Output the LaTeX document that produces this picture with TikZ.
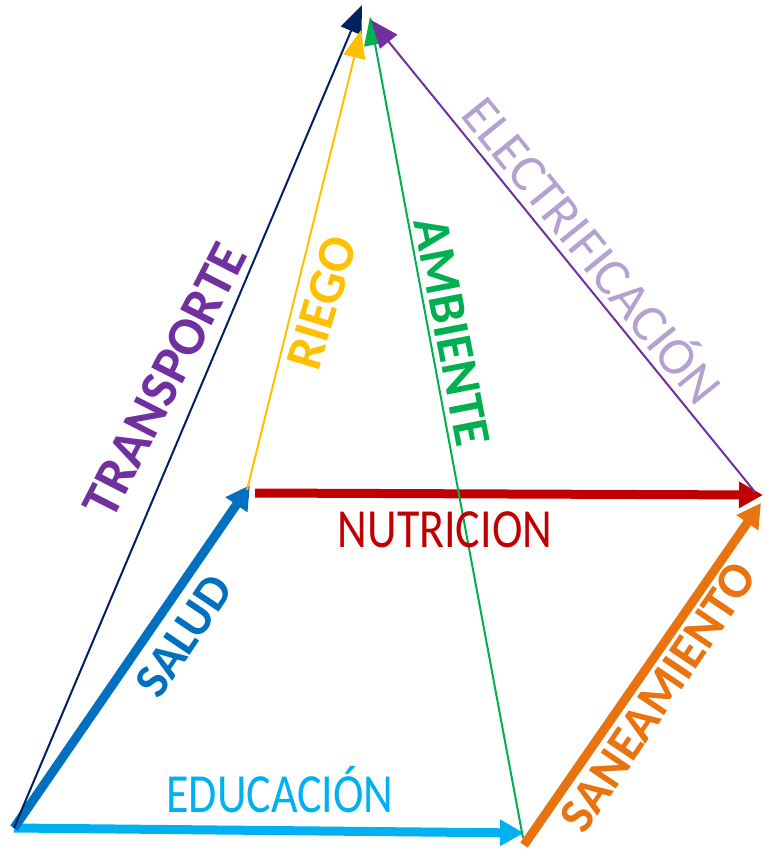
\documentclass[tikz,border=0pt]{standalone}
\usepackage{fontspec}
\setmainfont{Carlito}
\usetikzlibrary{arrows.meta}
\definecolor{navy}{HTML}{002060}
\definecolor{salud}{HTML}{0070C0}
\definecolor{educ}{HTML}{00B0F0}
\definecolor{nutri}{HTML}{C00000}
\definecolor{sanea}{HTML}{E8730F}
\definecolor{riego}{HTML}{FFC000}
\definecolor{ambi}{HTML}{00B050}
\definecolor{morado}{HTML}{7030A0}
\definecolor{lila}{HTML}{B3A2CF}
\tikzstyle{fat}=[line width=9pt, -{Triangle[length=24pt,width=25pt]}]
\tikzstyle{slim}=[line width=2pt, -{Triangle[length=28pt,width=22pt]}]
\tikzstyle{flat}=[inner sep=0pt, font=\fontsize{46}{46}\selectfont]
\tikzstyle{tilt}=[inner sep=0pt, font=\fontsize{52}{52}\selectfont\bfseries]
\newcommand{\tall}[1]{\scalebox{1}[1.2]{#1}}
\begin{document}
\begin{tikzpicture}[x=1pt,y=-1pt]
	\useasboundingbox (0,0) rectangle (765,851);
	% corners of the pyramid
	\coordinate (a) at (14,828);
	\coordinate (educend) at (524,833);
	\coordinate (b) at (523,838);
	\coordinate (bo) at (524,845);
	\coordinate (d) at (250,485);
	\coordinate (dn) at (255,493);
	\coordinate (dy) at (247,490);
	\coordinate (c) at (763,495);
	\coordinate (co) at (761,503);
	\coordinate (cp) at (755,492);
	% tips at the top
	\coordinate (topn) at (362,5);
	\coordinate (topy) at (361,30);
	\coordinate (topg) at (370,17);
	\coordinate (topp) at (371,20);

	% base
	\draw[fat, educ] (a) -- (educend);
	\draw[fat, salud] (a) -- (d);
	\draw[fat, nutri] (dn) -- (c);
	\draw[fat, sanea] (bo) -- (co);

	% edges to the top
	\draw[slim, navy] (a) -- (topn);
	\draw[slim, riego] (dy) -- (topy);
	\draw[slim, ambi] (b) -- (topg);
	\draw[slim, morado] (cp) -- (topp);

	% labels
	\node[flat, educ] (leduc) at (280,790) {\tall{EDUCACIÓN}};
	\node[flat, nutri] (lnutri) at (445,530) {\tall{NUTRICION}};
	\node[tilt, salud, rotate=56, font=\fontsize{49}{49}\selectfont\bfseries] (lsalud) at (184,636) {SALUD};
	\node[tilt, sanea, rotate=56, font=\fontsize{50}{50}\selectfont\bfseries] (lsanea) at (658,697) {SANEAMIENTO};
	\node[tilt, morado, rotate=63, font=\fontsize{54}{54}\selectfont\bfseries] (ltrans) at (165,380) {TRANSPORTE};
	\node[tilt, riego, rotate=73] (lriego) at (322,303) {RIEGO};
	\node[tilt, ambi, rotate=-79] (lambi) at (452,332) {AMBIENTE};
	\node[tilt, lila, rotate=-51, font=\fontsize{53}{53}\selectfont] (lelec) at (595,248) {ELECTRIFICACIÓN};
\end{tikzpicture}
\end{document}
